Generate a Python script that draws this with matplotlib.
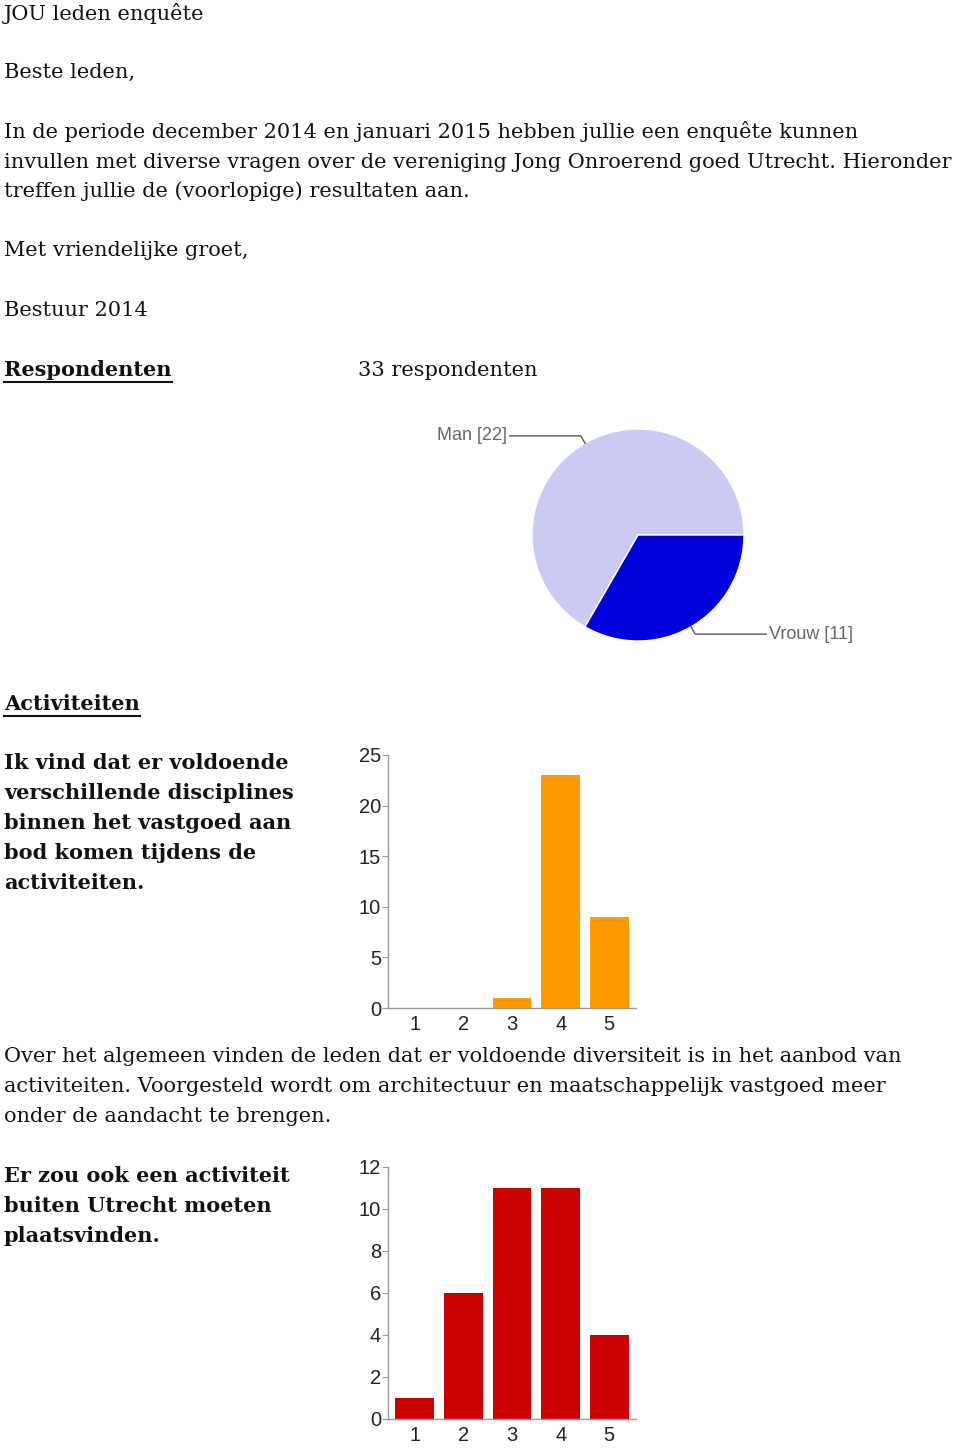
import numpy as np
import matplotlib
matplotlib.use('Agg')
import matplotlib.pyplot as plt
from matplotlib.lines import Line2D

W, H = 960, 1448

# pie data
gender_labels = ['Man', 'Vrouw']
gender_counts = [22, 11]

# question 1: disciplines
q1_scores = [1, 2, 3, 4, 5]
q1_counts = [0, 0, 1, 23, 9]

# question 2: activity outside Utrecht
q2_scores = [1, 2, 3, 4, 5]
q2_counts = [1, 6, 11, 11, 4]

serif = 'DejaVu Serif'
sans = 'Liberation Sans'
body_size = 15.0


def fx(x):
    return x / W


def fy(y):
    return 1 - y / H


fig = plt.figure(figsize=(W / 100, H / 100), dpi=100)

texts = [
    (4, 13, 'JOU leden enquête', False),
    (4, 72, 'Beste leden,', False),
    (4, 132, 'In de periode december 2014 en januari 2015 hebben jullie een enquête kunnen', False),
    (4, 162, 'invullen met diverse vragen over de vereniging Jong Onroerend goed Utrecht. Hieronder', False),
    (4, 191, 'treffen jullie de (voorlopige) resultaten aan.', False),
    (4, 250, 'Met vriendelijke groet,', False),
    (4, 310, 'Bestuur 2014', False),
    (358, 370, '33 respondenten', False),
    (4, 763, 'Ik vind dat er voldoende', True),
    (4, 793, 'verschillende disciplines', True),
    (4, 823, 'binnen het vastgoed aan', True),
    (4, 853, 'bod komen tijdens de', True),
    (4, 883, 'activiteiten.', True),
    (4, 1057, 'Over het algemeen vinden de leden dat er voldoende diversiteit is in het aanbod van', False),
    (4, 1087, 'activiteiten. Voorgesteld wordt om architectuur en maatschappelijk vastgoed meer', False),
    (4, 1117, 'onder de aandacht te brengen.', False),
    (4, 1176, 'Er zou ook een activiteit', True),
    (4, 1206, 'buiten Utrecht moeten', True),
    (4, 1236, 'plaatsvinden.', True),
]
for x, y, s, bold in texts:
    fig.text(fx(x), fy(y), s, fontsize=body_size, family=serif,
             weight='bold' if bold else 'normal', va='center', ha='left', color='#111111')

headings = []
for x, y, s in [(4, 370, 'Respondenten'), (4, 704, 'Activiteiten')]:
    t = fig.text(fx(x), fy(y), s, fontsize=body_size, family=serif, weight='bold',
                 va='center', ha='left', color='#111111')
    headings.append((t, y))

# pie chart
cx, cy, r = 638, 535, 106
pax = fig.add_axes([fx(cx - r), fy(cy + r), 2 * r / W, 2 * r / H])
wedges, _ = pax.pie(gender_counts, colors=['#cacaf5', '#0000dd'], startangle=0,
                    counterclock=True, radius=1,
                    wedgeprops=dict(edgecolor='white', linewidth=1))
pax.set_xlim(-1, 1)
pax.set_ylim(-1, 1)
pax.set_aspect('auto')
pax.axis('off')

for w, lab, cnt in zip(wedges, gender_labels, gender_counts):
    mid = np.deg2rad((w.theta1 + w.theta2) / 2)
    ex, ey = np.cos(mid), np.sin(mid)
    bx, by = 1.08 * ex, 1.08 * ey
    side = np.sign(ex)
    endx = side * 1.21
    pax.plot([ex, bx, endx], [ey, by, by], color='#555555', lw=1, clip_on=False)
    pax.text(endx + side * 0.03, by, '%s [%d]' % (lab, cnt), fontsize=13, family=sans,
             color='#666666', va='center', ha='left' if side > 0 else 'right')


def bar_chart(rect, scores, counts, color, ymax, step):
    ax = fig.add_axes(rect)
    ax.bar(scores, counts, width=0.8, color=color)
    ax.set_xlim(0.45, 5.55)
    ax.set_ylim(0, ymax)
    ax.set_yticks(np.arange(0, ymax + 1, step))
    ax.set_xticks(scores)
    for s in ['top', 'right']:
        ax.spines[s].set_visible(False)
    for s in ['left', 'bottom']:
        ax.spines[s].set_color('#999999')
        ax.spines[s].set_linewidth(1)
    ax.tick_params(axis='y', length=4, color='#999999', labelsize=14.5, pad=1, labelcolor='#222222')
    ax.tick_params(axis='x', length=0, labelsize=14.5, pad=5, labelcolor='#222222')
    for lab in ax.get_xticklabels() + ax.get_yticklabels():
        lab.set_family(sans)
    return ax


bar_chart([fx(388), fy(1008), (636 - 388) / W, (1008 - 755) / H],
          q1_scores, q1_counts, '#ff9900', 25, 5)
bar_chart([fx(388), fy(1419), (636 - 388) / W, (1419 - 1167) / H],
          q2_scores, q2_counts, '#cc0000', 12, 2)

# underline the headings
fig.canvas.draw()
for t, y in headings:
    bb = t.get_window_extent()
    fig.add_artist(Line2D([bb.x0 / W, bb.x1 / W], [fy(y + 12), fy(y + 12)],
                          transform=fig.transFigure, color='#111111', lw=1.5))

fig.savefig('out.png', dpi=100, facecolor='white')
